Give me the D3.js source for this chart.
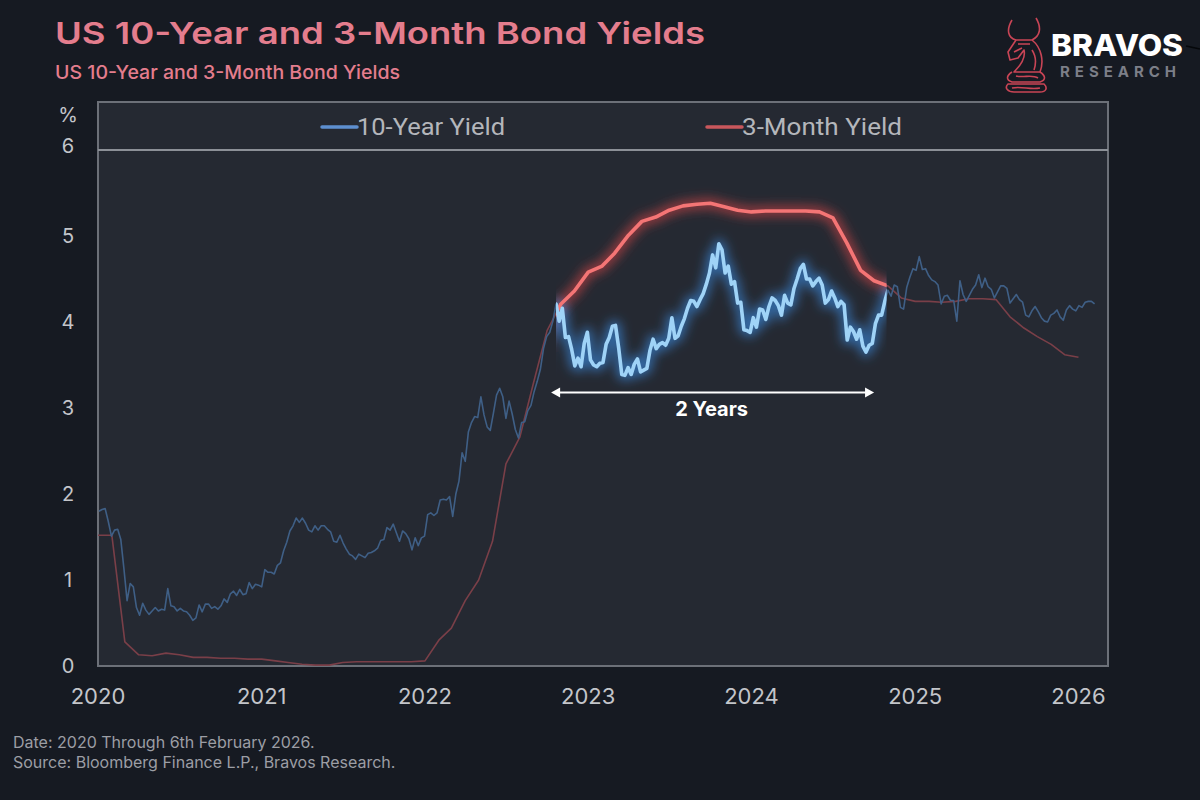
<!DOCTYPE html>
<html>
<head>
<meta charset="utf-8">
<script src="https://cdn.jsdelivr.net/npm/d3@7"></script>
<style>
  html, body { margin: 0; padding: 0; background: #161a22; }
  svg { display: block; }
</style>
</head>
<body>
<div id="chart"></div>
<script>
// Weekly 10-year yield (Friday closes), starting 3 Jan 2020
const tenYearStart = new Date(2020, 0, 3);
const tenYear2020 = [1.80,1.82,1.83,1.68,1.51,1.58,1.59,1.47,1.13,0.76,0.96,0.92,0.68,0.59,0.73,0.65,0.60,0.64,0.68,0.64,0.66,0.65,0.90,0.70,0.69,0.64,0.67,0.64,0.63,0.59,0.53,0.56,0.71,0.63,0.72,0.72,0.67,0.69,0.66,0.70,0.78,0.74,0.84,0.87,0.82,0.89,0.83,0.84,0.97,0.90,0.95,0.94];
const tenYear2021 = [0.92,1.12,1.09,1.09,1.07,1.17,1.20,1.34,1.44,1.57,1.63,1.72,1.67,1.72,1.66,1.58,1.56,1.63,1.58,1.63,1.63,1.59,1.56,1.45,1.44,1.52,1.43,1.36,1.30,1.28,1.24,1.30,1.28,1.26,1.31,1.32,1.34,1.37,1.46,1.47,1.61,1.58,1.65,1.55,1.45,1.57,1.54,1.48,1.35,1.49,1.40,1.49,1.51];
const tenYear2022 = [1.76,1.78,1.75,1.78,1.93,1.94,1.93,1.97,1.74,2.00,2.15,2.48,2.38,2.72,2.83,2.90,2.89,3.13,2.92,2.78,2.74,2.94,3.15,3.23,3.13,2.88,3.08,2.93,2.75,2.65,2.83,2.84,2.97,3.03,3.19,3.31,3.45,3.69,3.83,3.88,4.01,4.21,4.01,4.16,3.82,3.83,3.68,3.49,3.58,3.48,3.75,3.88];
const tenYear2023 = [3.56,3.50,3.48,3.52,3.53,3.74,3.82,3.95,3.96,3.70,3.39,3.38,3.47,3.39,3.51,3.57,3.42,3.44,3.46,3.67,3.80,3.69,3.74,3.76,3.73,3.81,4.05,3.81,3.84,3.95,4.04,4.16,4.25,4.24,4.18,4.26,4.33,4.44,4.57,4.78,4.63,4.91,4.84,4.57,4.65,4.44,4.47,4.22,4.23,3.91,3.90,3.88];
const tenYear2024 = [4.05,3.94,4.15,4.14,4.03,4.18,4.28,4.25,4.19,4.08,4.31,4.22,4.20,4.39,4.50,4.62,4.67,4.50,4.50,4.42,4.47,4.51,4.43,4.22,4.26,4.36,4.28,4.18,4.24,4.20,3.79,3.94,3.89,3.80,3.91,3.72,3.65,3.73,3.75,3.98,4.08,4.08,4.24,4.37,4.30,4.43,4.41,4.17,4.15,4.40,4.52,4.62];
const tenYear2025 = [4.60,4.76,4.61,4.62,4.54,4.49,4.47,4.43,4.21,4.30,4.31,4.25,4.25,4.01,4.48,4.32,4.24,4.31,4.38,4.43,4.55,4.40,4.51,4.41,4.38,4.28,4.35,4.42,4.42,4.39,4.22,4.27,4.32,4.26,4.23,4.08,4.06,4.13,4.18,4.12,4.05,4.01,4.00,4.08,4.10,4.14,4.06,4.02,4.14,4.19,4.15,4.13];
const tenYear2026 = [4.19,4.17,4.23,4.24,4.24,4.21];

// Monthly 3-month yield, first of each month from Jan 2020
const threeMonthStart = new Date(2020, 0, 1);
const threeMonth2020 = [1.52,1.52,0.28,0.13,0.12,0.15,0.13,0.10,0.10,0.09,0.09,0.08];
const threeMonth2021 = [0.08,0.06,0.04,0.02,0.01,0.01,0.04,0.05,0.05,0.05,0.05,0.05];
const threeMonth2022 = [0.06,0.30,0.44,0.76,1.00,1.45,2.35,2.66,3.30,3.90,4.21,4.36];
const threeMonth2023 = [4.58,4.65,4.80,5.01,5.17,5.22,5.30,5.35,5.37,5.38,5.34,5.30];
const threeMonth2024 = [5.28,5.29,5.29,5.29,5.29,5.28,5.21,4.92,4.60,4.48,4.42,4.28];
const threeMonth2025 = [4.24,4.24,4.23,4.24,4.27,4.27,4.26,4.06,3.93,3.83,3.74,3.62];
const threeMonth2026 = [3.59];

const yTicks = [0, 1, 2, 3, 4, 5, 6];
const xTickYears = [2020, 2021, 2022, 2023, 2024, 2025, 2026];
const seriesNames = ["10-Year Yield", "3-Month Yield"];

// Highlighted stretch and annotation
const highlightStart = new Date(2022, 9, 21);
const highlightEnd = new Date(2024, 9, 29);
const arrowStart = new Date(2022, 9, 10);
const arrowEnd = new Date(2024, 9, 1);
const arrowLabel = "2 Years";
const arrowY = 3.18;

const tenYear = [].concat(tenYear2020, tenYear2021, tenYear2022, tenYear2023, tenYear2024, tenYear2025, tenYear2026)
    .map((v, i) => ({ date: d3.timeDay.offset(tenYearStart, 7 * i), value: v }));
const threeMonth = [].concat(threeMonth2020, threeMonth2021, threeMonth2022, threeMonth2023, threeMonth2024, threeMonth2025, threeMonth2026)
    .map((v, i) => ({ date: d3.timeMonth.offset(threeMonthStart, i), value: v }));

const width = 1200;
const height = 800;
const plotLeft = 98, plotRight = 1108, frameTop = 102, plotTop = 150, plotBottom = 666;

const x = d3.scaleTime()
    .domain([new Date(2020, 0, 1), new Date(2026, 2, 8)])
    .range([plotLeft, plotRight]);
const y = d3.scaleLinear()
    .domain([0, 6])
    .range([plotBottom, plotTop]);

const svg = d3.select("#chart").append("svg")
    .attr("width", width)
    .attr("height", height)
    .attr("viewBox", [0, 0, width, height]);

svg.append("rect").attr("width", width).attr("height", height).attr("fill", "#161a22");

const defs = svg.append("defs");
defs.append("filter").attr("id", "halo").attr("x", "-20%").attr("y", "-50%").attr("width", "140%").attr("height", "200%")
    .append("feGaussianBlur").attr("stdDeviation", 5.5);
defs.append("filter").attr("id", "soft")
    .append("feGaussianBlur").attr("stdDeviation", 0.7);
defs.append("clipPath").attr("id", "hl")
    .append("rect")
    .attr("x", x(highlightStart)).attr("y", plotTop)
    .attr("width", x(highlightEnd) - x(highlightStart)).attr("height", plotBottom - plotTop);
defs.append("clipPath").attr("id", "plot")
    .append("rect").attr("x", plotLeft).attr("y", plotTop).attr("width", plotRight - plotLeft).attr("height", plotBottom - plotTop);

// Plot panel
svg.append("rect")
    .attr("x", plotLeft).attr("y", frameTop)
    .attr("width", plotRight - plotLeft).attr("height", plotBottom - frameTop)
    .attr("fill", "#252932")
    .attr("stroke", "#6c7078")
    .attr("stroke-width", 2);
svg.append("line")
    .attr("x1", plotLeft).attr("x2", plotRight)
    .attr("y1", plotTop).attr("y2", plotTop)
    .attr("stroke", "#8c9097").attr("stroke-width", 2);

// Title block
svg.append("text")
    .attr("x", 55).attr("y", 44)
    .attr("font-family", "Inter, sans-serif").attr("font-weight", 600)
    .attr("font-size", 30).attr("fill", "#e47d8d")
    .attr("textLength", 650).attr("lengthAdjust", "spacingAndGlyphs")
    .text("US 10-Year and 3-Month Bond Yields");
svg.append("text")
    .attr("x", 55).attr("y", 79)
    .attr("font-family", "Inter, sans-serif").attr("font-weight", 500)
    .attr("font-size", 19).attr("fill", "#e47d8d")
    .attr("textLength", 345).attr("lengthAdjust", "spacingAndGlyphs")
    .text("US 10-Year and 3-Month Bond Yields");

// Logo
const logo = svg.append("g").attr("fill", "none").attr("stroke", "#c94556").attr("stroke-width", 1.6).attr("stroke-linejoin", "round");
logo.append("path").attr("d", "M1012,20 C1006,30 1008,38 1016,40 M1036,18 C1042,28 1040,36 1032,40");
logo.append("path").attr("d", "M1016,40 L1008,52 L1010,60 L1018,58 L1024,50 C1026,58 1020,66 1014,72 L1040,72 C1044,62 1042,48 1032,40 Z");
logo.append("path").attr("d", "M1018,44 L1030,44 M1014,52 L1022,48 M1032,50 C1036,56 1036,64 1034,70");
logo.append("path").attr("d", "M1012,72 C1006,76 1006,80 1012,82 L1040,82 C1046,80 1046,76 1040,72 M1008,84 C1004,88 1008,92 1014,92 L1040,92 C1046,92 1048,88 1044,84 Z");
logo.append("path").attr("d", "M1016,76 C1024,78 1032,74 1038,78 M1012,88 C1022,86 1030,90 1040,88");
svg.append("text")
    .attr("x", 1051).attr("y", 56)
    .attr("font-family", "Inter, sans-serif").attr("font-weight", 800)
    .attr("font-size", 30).attr("fill", "#ffffff")
    .attr("textLength", 132).attr("lengthAdjust", "spacingAndGlyphs")
    .text("BRAVOS");
svg.append("text")
    .attr("x", 1060).attr("y", 77)
    .attr("font-family", "Inter, sans-serif").attr("font-weight", 700)
    .attr("font-size", 15).attr("fill", "#7c7f88")
    .attr("textLength", 116).attr("lengthAdjust", "spacing")
    .text("RESEARCH");
svg.append("line").attr("x1", 1186).attr("x2", 1200).attr("y1", 46).attr("y2", 49)
    .attr("stroke", "#05070a").attr("stroke-width", 1.5);

// Legend
const legendX = [322, 707];
const legendTextWidth = [148, 160];
const legendColors = ["#5d8fd0", "#c9575c"];
const legend = svg.append("g").selectAll("g").data(seriesNames).join("g")
    .attr("transform", (d, i) => `translate(${legendX[i]},127)`);
legend.append("line")
    .attr("x1", 0).attr("x2", 35)
    .attr("stroke", (d, i) => legendColors[i]).attr("stroke-width", 3.5).attr("stroke-linecap", "round");
legend.append("text")
    .attr("x", 35).attr("dy", "0.36em")
    .attr("font-family", "Roboto, sans-serif").attr("font-size", 23)
    .attr("fill", "#b4b6bb")
    .attr("textLength", (d, i) => legendTextWidth[i]).attr("lengthAdjust", "spacingAndGlyphs")
    .text(d => d);

// Axes labels
svg.append("g").selectAll("text").data(yTicks).join("text")
    .attr("x", 68).attr("y", d => y(d) - (d === 6 ? 4 : 0)).attr("dy", "0.36em")
    .attr("text-anchor", "middle")
    .attr("font-family", "Inter, sans-serif").attr("font-size", 20)
    .attr("fill", "#c3c5ca")
    .text(d => d);
svg.append("text")
    .attr("x", 68).attr("y", 115).attr("dy", "0.36em")
    .attr("text-anchor", "middle")
    .attr("font-family", "Inter, sans-serif").attr("font-size", 20)
    .attr("fill", "#c3c5ca")
    .text("%");
svg.append("g").selectAll("text").data(xTickYears).join("text")
    .attr("x", d => x(new Date(d, 0, 1))).attr("y", 696).attr("dy", "0.36em")
    .attr("text-anchor", "middle")
    .attr("font-family", "Inter, sans-serif").attr("font-size", 22)
    .attr("fill", "#c3c5ca")
    .text(d => d);

const line = d3.line().x(d => x(d.date)).y(d => y(d.value));

// Dim full-length lines
const base = svg.append("g").attr("clip-path", "url(#plot)").attr("fill", "none").attr("stroke-linejoin", "round");
base.append("path").datum(threeMonth).attr("d", line).attr("stroke", "#7a3f48").attr("stroke-width", 1.6);
base.append("path").datum(tenYear).attr("d", line).attr("stroke", "#3f5f86").attr("stroke-width", 1.6);

// Glowing highlighted stretch
const glow = svg.append("g").attr("clip-path", "url(#hl)").attr("fill", "none")
    .attr("stroke-linejoin", "round").attr("stroke-linecap", "round");
glow.append("path").datum(threeMonth).attr("d", line)
    .attr("stroke", "#ff4a4a").attr("stroke-width", 10).attr("stroke-opacity", 0.55).attr("filter", "url(#halo)");
glow.append("path").datum(tenYear).attr("d", line)
    .attr("stroke", "#3f9cff").attr("stroke-width", 10).attr("stroke-opacity", 0.55).attr("filter", "url(#halo)");
glow.append("path").datum(threeMonth).attr("d", line)
    .attr("stroke", "#f47474").attr("stroke-width", 3.6).attr("filter", "url(#soft)");
glow.append("path").datum(tenYear).attr("d", line)
    .attr("stroke", "#9fd3f7").attr("stroke-width", 3.6).attr("filter", "url(#soft)");

// "2 Years" arrow
const ax1 = x(arrowStart), ax2 = x(arrowEnd), ay = y(arrowY);
const ann = svg.append("g").attr("fill", "#ffffff").attr("stroke", "#ffffff");
ann.append("line").attr("x1", ax1 + 4).attr("x2", ax2 - 4).attr("y1", ay).attr("y2", ay).attr("stroke-width", 2);
ann.append("path").attr("stroke", "none").attr("d", `M${ax1},${ay} l9,-5 l0,10 Z`);
ann.append("path").attr("stroke", "none").attr("d", `M${ax2},${ay} l-9,-5 l0,10 Z`);
svg.append("text")
    .attr("x", (ax1 + ax2) / 2 - 1).attr("y", ay + 23)
    .attr("text-anchor", "middle")
    .attr("font-family", "Inter, sans-serif").attr("font-weight", 700)
    .attr("font-size", 20).attr("fill", "#ffffff")
    .text(arrowLabel);

// Footer
svg.append("g").selectAll("text")
    .data(["Date: 2020 Through 6th February 2026.", "Source: Bloomberg Finance L.P., Bravos Research."])
    .join("text")
    .attr("x", 13).attr("y", (d, i) => 748 + i * 20)
    .attr("font-family", "Inter, sans-serif").attr("font-size", 16)
    .attr("fill", "#9c9ea5")
    .text(d => d);
</script>
</body>
</html>
